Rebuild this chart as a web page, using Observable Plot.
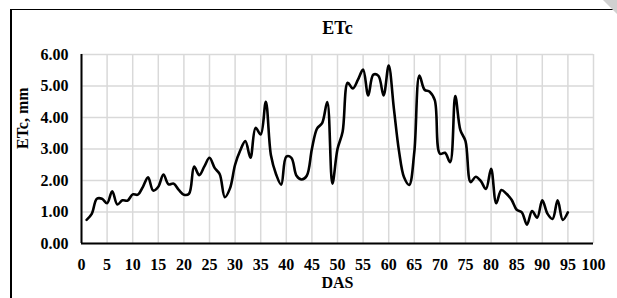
<!DOCTYPE html>
<html>
<head>
<meta charset="utf-8">
<script src="https://cdn.jsdelivr.net/npm/d3@7"></script>
<script src="https://cdn.jsdelivr.net/npm/@observablehq/plot@0.6"></script>
<style>
  html, body { margin: 0; padding: 0; background: #fff; }
  #wrap { position: relative; width: 617px; height: 298px; overflow: hidden; }
  #border { position: absolute; left: 10px; top: 9px; width: 640px; height: 320px;
            border-left: 2px solid #000; border-top: 1.5px solid #000; pointer-events: none; }
  #corner { position: absolute; right: 0; top: 0; width: 0; height: 0;
            border-top: 14px solid #d0d0d0; border-left: 14px solid transparent; }
  svg { font-family: "Liberation Serif", "Times New Roman", serif; }
</style>
</head>
<body>
<div id="wrap"><div id="chart"></div><div id="border"></div><div id="corner"></div></div>
<script>
const days = d3.range(1, 96);
const etc = [
  0.75, 0.94, 1.42, 1.42, 1.28, 1.66, 1.24, 1.37, 1.36, 1.56,
  1.55, 1.80, 2.10, 1.68, 1.80, 2.19, 1.88, 1.90, 1.70, 1.55,
  1.58, 2.44, 2.17, 2.45, 2.72, 2.40, 2.20, 1.47, 1.75, 2.50,
  2.95, 3.25, 2.72, 3.67, 3.46, 4.50, 2.80, 2.20, 1.87, 2.76,
  2.72, 2.15, 2.03, 2.15, 3.00, 3.65, 3.82, 4.49, 1.90, 3.00,
  3.55, 5.10, 4.92, 5.20, 5.52, 4.70, 5.36, 5.32, 4.70, 5.65,
  4.30, 2.95, 2.10, 1.86, 2.90, 5.33, 4.88, 4.82, 4.55, 2.85,
  2.88, 2.58, 4.68, 3.60, 3.25, 1.95, 2.12, 1.98, 1.73, 2.37,
  1.28, 1.70, 1.58, 1.39, 1.07, 0.99, 0.60, 1.03, 0.82, 1.37,
  0.95, 0.78, 1.37, 0.75, 0.99
];
const xTicks = d3.range(0, 101, 5);
const yTicks = [0, 1, 2, 3, 4, 5, 6];
const title = "ETc";
const xLabel = "DAS";
const yLabel = "ETc, mm";

const data = days.map((d, i) => ({day: d, etc: etc[i]}));

const chart = Plot.plot({
  width: 617,
  height: 298,
  marginLeft: 81,
  marginRight: 24,
  marginTop: 54,
  marginBottom: 55,
  style: {fontFamily: '"Liberation Serif", "Times New Roman", serif', fontSize: "16px", fontWeight: "bold", color: "#000", background: "transparent"},
  x: {domain: [0, 100]},
  y: {domain: [0, 6]},
  marks: [
    Plot.gridX(xTicks, {stroke: "#d9d9d9", strokeOpacity: 1, strokeWidth: 1.5}),
    Plot.gridY(yTicks, {stroke: "#d9d9d9", strokeOpacity: 1, strokeWidth: 1.5}),
    Plot.axisX(xTicks, {tickSize: 0, tickPadding: 15, fontSize: 16, fontWeight: "bold", label: null}),
    Plot.axisY(yTicks, {tickSize: 0, tickPadding: 13, fontSize: 16, fontWeight: "bold",
      tickFormat: d3.format(".2f"), label: null}),
    Plot.ruleY([0], {stroke: "#000", strokeWidth: 2}),
    Plot.ruleX([0], {stroke: "#000", strokeWidth: 2}),
    Plot.line(data, {x: "day", y: "etc", curve: "catmull-rom", stroke: "#000", strokeWidth: 2.6}),
    Plot.text([title], {frameAnchor: "top", dy: -33, fontSize: 18, fontWeight: "bold"}),
    Plot.text([xLabel], {frameAnchor: "bottom", dy: 44, fontSize: 16, fontWeight: "bold"}),
    Plot.text([yLabel], {frameAnchor: "left", dx: -59, rotate: -90, fontSize: 16, fontWeight: "bold"})
  ]
});
document.getElementById("chart").appendChild(chart);
</script>
</body>
</html>
